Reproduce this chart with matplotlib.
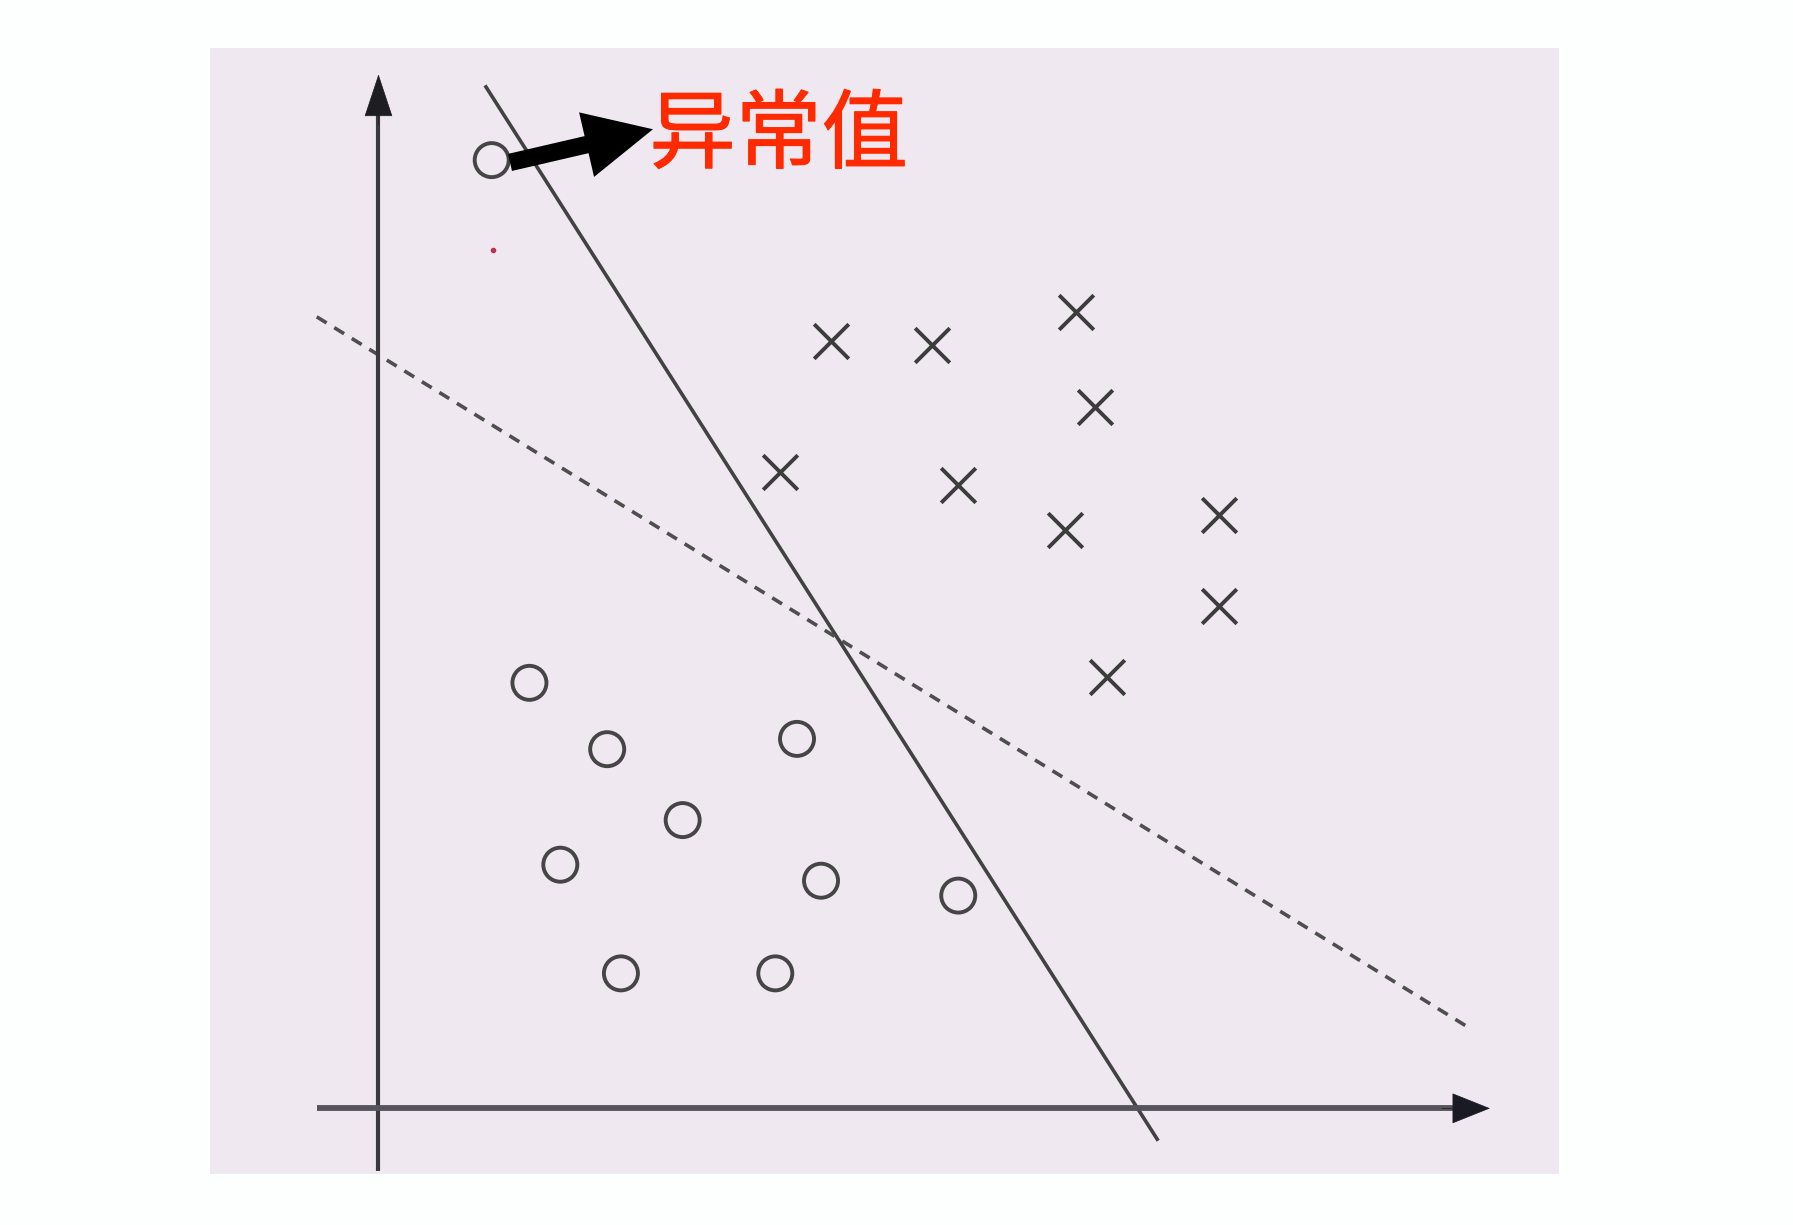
import matplotlib
matplotlib.use("Agg")
import matplotlib.pyplot as plt
from matplotlib.patches import Rectangle
import matplotlib.patheffects as pe

plt.rcParams['font.family'] = ['Noto Sans CJK SC', 'DejaVu Sans']

# Data (arbitrary units, origin at axes crossing)
circle_x = [0.99, 1.32, 2.00, 3.66, 2.66, 1.59, 3.87, 5.07, 2.12, 3.47]
circle_y = [8.29, 3.72, 3.14, 3.23, 2.52, 2.13, 1.99, 1.86, 1.18, 1.18]
cross_x = [3.96, 4.84, 6.10, 6.27, 3.51, 5.07, 6.00, 7.35, 7.35, 6.37]
cross_y = [6.71, 6.67, 6.96, 6.13, 5.56, 5.45, 5.06, 5.19, 4.39, 3.77]
solid_x = [0.94, 6.81]
solid_y = [8.93, -0.27]
dashed_x = [-0.54, 9.56]
dashed_y = [6.92, 0.69]
outlier_label = "异常值"
label_xy = (2.37, 8.49)
arrow_from = (1.15, 8.27)
arrow_to = (2.40, 8.56)

fig = plt.figure(figsize=(17.93, 12.25), dpi=100)
fig.patch.set_facecolor('#fdfefe')
ax = fig.add_axes([0, 0, 1, 1])
ax.set_xlim(-3.31, 12.37)
ax.set_ylim(-1.02, 9.69)
ax.axis('off')

ax.add_patch(Rectangle((-1.47, -0.57), 11.79, 9.84, facecolor='#efe8f0',
                       edgecolor='none', zorder=0))

# y axis
ax.plot([0, 0], [-0.55, 8.80], color='#3a3a3e', lw=3.0, solid_capstyle='butt', zorder=3)
ax.annotate('', xy=(0, 9.04), xytext=(0, 8.6),
            arrowprops=dict(arrowstyle='-|>,head_length=1.45,head_width=0.48',
                            mutation_scale=20, lw=0.5, color='#1e1e22',
                            shrinkA=0, shrinkB=0), zorder=3)
# x axis
ax.plot([-0.54, 9.50], [0, 0], color='#55535c', lw=4.2, solid_capstyle='butt', zorder=3)
ax.annotate('', xy=(9.72, 0), xytext=(9.3, 0),
            arrowprops=dict(arrowstyle='-|>,head_length=1.3,head_width=0.52',
                            mutation_scale=20, lw=0.5, color='#1a1a24',
                            shrinkA=0, shrinkB=0), zorder=3)

ax.plot(solid_x, solid_y, color='#424242', lw=2.6, zorder=2)
ax.plot(dashed_x, dashed_y, color='#4e4e4e', lw=2.6, linestyle=(0, (3.2, 2.5)), zorder=2)

ax.scatter(circle_x, circle_y, s=600, facecolors='none', edgecolors='#454545',
           linewidths=2.8, zorder=4)
ax.scatter(cross_x, cross_y, s=620, marker='x', color='#3c3c3c',
           linewidths=2.8, zorder=4)

ax.plot([1.00], [7.50], marker='o', ms=3, color='#c03050', zorder=4)

ax.annotate('', xy=arrow_to, xytext=arrow_from,
            arrowprops=dict(arrowstyle='simple,head_length=1.09,head_width=1.06,tail_width=0.28',
                            mutation_scale=45, color='black', lw=0,
                            shrinkA=0, shrinkB=0), zorder=5)
ax.text(label_xy[0], label_xy[1], outlier_label, color='#ff2a00', fontsize=62,
        ha='left', va='center', zorder=6,
        path_effects=[pe.withStroke(linewidth=0.8, foreground='#ff2a00')])

fig.savefig('out.png', dpi=100, facecolor=fig.get_facecolor())
